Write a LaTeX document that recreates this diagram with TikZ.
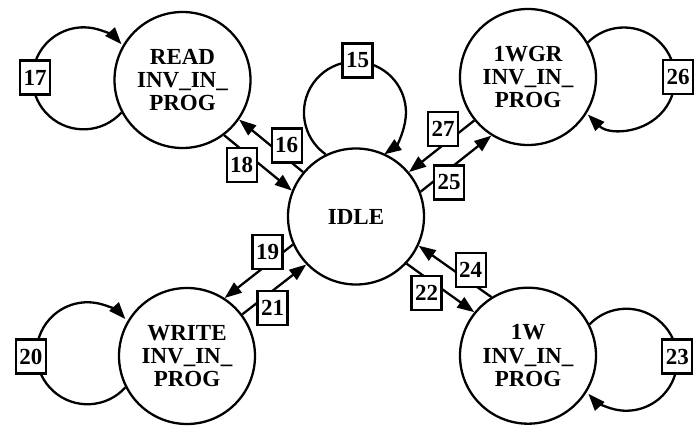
\documentclass[tikz,border=0pt]{standalone}
\usepackage{fontspec}
\setmainfont{Liberation Serif}
\usetikzlibrary{arrows.meta}
\tikzset{
  state/.style={circle, draw, line width=2.3pt, minimum size=136pt, inner sep=0pt, align=center,
    font=\bfseries\fontsize{23}{23.3}\selectfont},
  lbl/.style={draw, fill=white, line width=2.1pt, inner xsep=3.5pt, inner ysep=0pt, minimum height=34pt,
    font=\bfseries\fontsize{23}{23.3}\selectfont},
  arr/.style={-{Triangle[length=17pt,width=12.5pt]}, line width=2.3pt},
}
\begin{document}
\begin{tikzpicture}[x=1pt,y=1pt]
\useasboundingbox (0,0) rectangle (698,428);
\node[state] (read) at (182.5,348) {READ\\INV\_IN\_\\PROG};
\node[state] (idle) at (356,211.5) {IDLE};
\node[state] (wgr) at (528,351) {1WGR\\INV\_IN\_\\PROG};
\node[state] (write) at (187,72) {WRITE\\INV\_IN\_\\PROG};
\node[state] (wone) at (528,72.3) {1W\\INV\_IN\_\\PROG};
% self loops
\draw[arr] (read.208) arc[start angle=-42, end angle=-318, radius=51];
\draw[arr] (idle.116) arc[start angle=235, end angle=-55, radius=51];
\draw[arr] (wgr.30) arc[start angle=135, end angle=-135, radius=51];
\draw[arr] (write.207) arc[start angle=-42, end angle=-318, radius=51];
\draw[arr] (wone.27) arc[start angle=136, end angle=-138, radius=51];
% edges
\draw[arr] (idle.140.5) -- (read.325.4);
\draw[arr] (read.307.7) -- (idle.158.1);
\draw[arr] (wgr.219.4) -- (idle.40);
\draw[arr] (idle.21.9) -- (wgr.238.8);
\draw[arr] (idle.204.7) -- (write.57.2);
\draw[arr] (write.37.4) -- (idle.224.7);
\draw[arr] (wone.122.2) -- (idle.335.6);
\draw[arr] (idle.317) -- (wone.141.3);
% labels
\node[lbl] (l15) at (357.5,367.5) {15};
\node[lbl] (l16) at (286.7,282.5) {16};
\node[lbl] (l17) at (35,350.5) {17};
\node[lbl] (l18) at (241.7,263) {18};
\node[lbl] (l19) at (267.5,175.7) {19};
\node[lbl] (l20) at (30.8,71.5) {20};
\node[lbl] (l21) at (272.5,119.8) {21};
\node[lbl] (l22) at (426.5,134.8) {22};
\node[lbl] (l23) at (677.3,71.5) {23};
\node[lbl] (l24) at (470.7,158.2) {24};
\node[lbl] (l25) at (449,245.5) {25};
\node[lbl] (l26) at (678,351.3) {26};
\node[lbl] (l27) at (443,298.8) {27};
\end{tikzpicture}
\end{document}
